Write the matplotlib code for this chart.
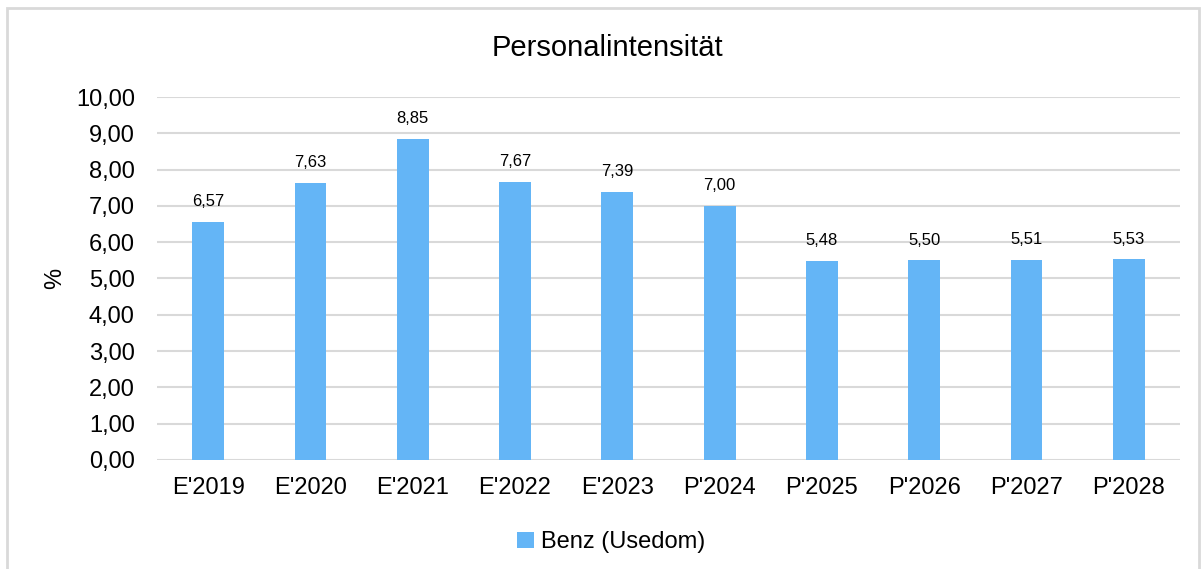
import matplotlib.pyplot as plt
from matplotlib.patches import Rectangle

plt.rcParams['font.family'] = ['Liberation Sans', 'DejaVu Sans']

categories = ["E'2019", "E'2020", "E'2021", "E'2022", "E'2023",
              "P'2024", "P'2025", "P'2026", "P'2027", "P'2028"]
values = [6.57, 7.63, 8.85, 7.67, 7.39, 7.00, 5.48, 5.50, 5.51, 5.53]
series_name = "Benz (Usedom)"
yticks = [0, 1, 2, 3, 4, 5, 6, 7, 8, 9, 10]


def de(v):
    return f"{v:.2f}".replace(".", ",")


fig = plt.figure(figsize=(12.03, 5.69), dpi=100)
ax = fig.add_axes([0.1305, 0.1916, 0.8504, 0.6379])

x = range(len(categories))
ax.bar(x, values, width=0.31, color="#64B5F6", label=series_name, zorder=3)
for i, v in zip(x, values):
    ax.annotate(de(v), (i, v), xytext=(0, 14.5), textcoords="offset points",
                ha="center", va="center", fontsize=12)

ax.set_xlim(-0.5, len(categories) - 0.5)
ax.set_ylim(0, 10)
ax.set_yticks(yticks)
ax.set_yticklabels([de(t) for t in yticks], fontsize=17)
ax.set_xticks(list(x))
ax.set_xticklabels(categories, fontsize=17)
ax.tick_params(length=0)
ax.tick_params(axis="y", pad=16)
ax.tick_params(axis="x", pad=12)
ax.grid(axis="y", color="#D9D9D9", lw=1.5, zorder=0)
for s in ax.spines.values():
    s.set_visible(False)
ax.set_ylabel("%", fontsize=17, labelpad=7)

fig.text(0.505, 0.915, "Personalintensität", ha="center", va="center", fontsize=21)
fig.legend(loc="center", bbox_to_anchor=(0.508, 0.047), frameon=False, fontsize=17,
           handlelength=0.7, handleheight=0.7, handletextpad=0.3)

fig.patches.append(Rectangle((7 / 1203, -0.1), 1192 / 1203, 1.1 - 8 / 569,
                             transform=fig.transFigure, fill=False,
                             edgecolor="#D9D9D9", lw=2))

fig.savefig("out.png", dpi=100)
